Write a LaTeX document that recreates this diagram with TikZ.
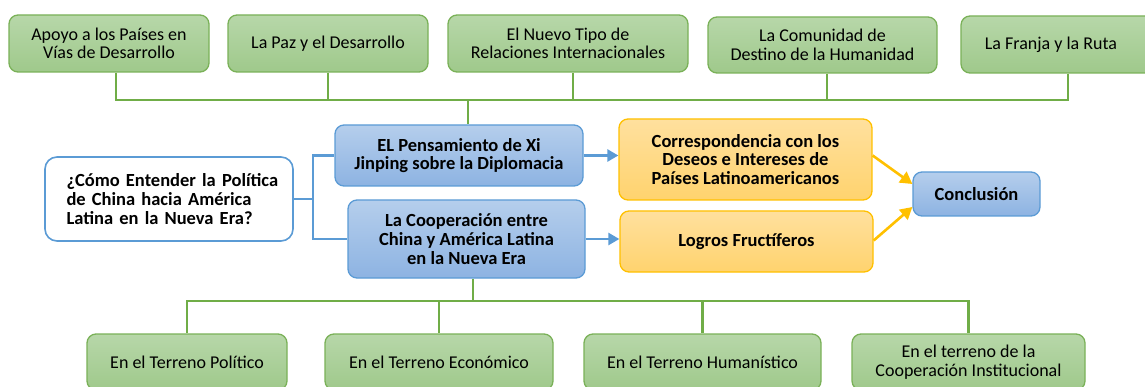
\documentclass[tikz,border=0pt]{standalone}
\usepackage{fontspec}
\setmainfont{Carlito}
\usetikzlibrary{arrows.meta}
\definecolor{grnedge}{HTML}{7AB158}
\definecolor{grntop}{HTML}{B7D7A9}
\definecolor{grnbot}{HTML}{9FC98B}
\definecolor{grnline}{HTML}{70AD47}
\definecolor{bluedge}{HTML}{5B9BD5}
\definecolor{blutop}{HTML}{B5CEEC}
\definecolor{blubot}{HTML}{8DB3E2}
\definecolor{orgedge}{HTML}{FFC000}
\definecolor{orgtop}{HTML}{FFE09E}
\definecolor{orgbot}{HTML}{FFD36E}

\begin{document}
\begin{tikzpicture}[x=1pt,y=-1pt]
	\tikzstyle{every node}+=[inner sep=0pt]
	\tikzstyle{greenbox}=[draw=grnedge, line width=1.3pt, rounded corners=9pt, top color=grntop, bottom color=grnbot, align=center, font=\fontsize{18}{18.5}\selectfont]
	\tikzstyle{bluebox}=[draw=bluedge, line width=1.3pt, rounded corners=9pt, top color=blutop, bottom color=blubot, align=center, font=\fontsize{18.5}{18.8}\selectfont\bfseries]
	\tikzstyle{orangebox}=[draw=orgedge, line width=1.3pt, rounded corners=9pt, top color=orgtop, bottom color=orgbot, align=center, font=\fontsize{18.5}{18.8}\selectfont\bfseries]
	\tikzstyle{gline}=[draw=grnline, line width=2.4pt]
	\tikzstyle{bline}=[draw=bluedge, line width=2.4pt]
	\tikzstyle{barrow}=[draw=bluedge, line width=2.6pt, -{Triangle[length=11pt,width=12pt]}]
	\tikzstyle{oarrow}=[draw=orgedge, line width=2.6pt, -{Triangle[length=12pt,width=13pt]}]
	\useasboundingbox (0,0) rectangle (1145,387);
	\node[greenbox, minimum width=200pt, minimum height=57pt] (t1) at (109,43.5) {Apoyo a los Países en\\Vías de Desarrollo};
	\node[greenbox, minimum width=200pt, minimum height=57pt] (t2) at (328,43.5) {La Paz y el Desarrollo};
	\node[greenbox, minimum width=240pt, minimum height=57pt] (t3) at (568,43.5) {El Nuevo Tipo de\\Relaciones Internacionales};
	\node[greenbox, minimum width=229pt, minimum height=56pt] (t4) at (822.5,45) {La Comunidad de\\Destino de la Humanidad};
	\node[greenbox, minimum width=214pt, minimum height=57pt] (t5) at (1068,44.5) {\hspace*{-34pt}La Franja y la Ruta};
	\node[draw=bluedge, line width=1.6pt, rounded corners=12pt, fill=white, text width=205pt, minimum width=248pt, minimum height=84pt, align=left, font=\fontsize{18.5}{18.8}\selectfont\bfseries] (q) at (169,199) {\makebox[205pt][s]{¿Cómo Entender la Política}\\\makebox[205pt][s]{de China hacia América}\\Latina en la Nueva Era?};
	\node[bluebox, minimum width=248pt, minimum height=61pt] (pA) at (459,155.5) {EL Pensamiento de Xi\\Jinping sobre la Diplomacia};
	\node[bluebox, minimum width=237pt, minimum height=78pt] (pB) at (466.5,239) {La Cooperación entre\\China y América Latina\\en la Nueva Era};
	\node[orangebox, minimum width=253pt, minimum height=81pt] (cC) at (745.5,159.5) {Correspondencia con los\\Deseos e Intereses de\\Países Latinoamericanos};
	\node[orangebox, minimum width=253pt, minimum height=61pt] (cD) at (746.5,241.5) {Logros Fructíferos};
	\node[bluebox, minimum width=127pt, minimum height=44pt] (concl) at (976.5,194) {Conclusión};
	\node[greenbox, minimum width=200pt, minimum height=56pt] (b1) at (187,362) {En el Terreno Político};
	\node[greenbox, minimum width=228pt, minimum height=56pt] (b2) at (439,362) {En el Terreno Económico};
	\node[greenbox, minimum width=237pt, minimum height=56pt] (b3) at (702.5,362) {En el Terreno Humanístico};
	\node[greenbox, minimum width=233pt, minimum height=56pt] (b4) at (968.5,362) {En el terreno de la\\Cooperación Institucional};
	\coordinate (topbus) at (468,100);
	\coordinate (botbus) at (473,301);
	\coordinate (fork) at (313,199);
	\draw[gline] ([xshift=7pt]t1.south) |- (topbus);
	\draw[gline] (t2.south) |- (topbus);
	\draw[gline] ([xshift=5pt]t3.south) |- (topbus);
	\draw[gline] ([xshift=4.5pt]t4.south) |- (topbus);
	\draw[gline] (t5.south) |- (topbus);
	\draw[gline] (topbus) -- (topbus |- pA.north);
	\draw[gline] (botbus |- pB.south) -- (botbus);
	\draw[gline] (botbus) -| (b1.north);
	\draw[gline] (botbus) -| (b2.north);
	\draw[gline] (botbus) -| (b3.north);
	\draw[gline] (botbus) -| (b4.north);
	\draw[bline] (q.east) -- (fork) |- (pA.west);
	\draw[bline] (fork) |- (pB.west);
	\draw[barrow] (pA.east) -- (pA.east -| cC.west);
	\draw[barrow] (pB.east) -- (pB.east -| cD.west);
	\draw[oarrow] ([yshift=4pt]cC.east) -- ([yshift=10pt]concl.west);
	\draw[oarrow] ([yshift=1pt]cD.east) -- ([yshift=-13pt]concl.west);
\end{tikzpicture}
\end{document}
